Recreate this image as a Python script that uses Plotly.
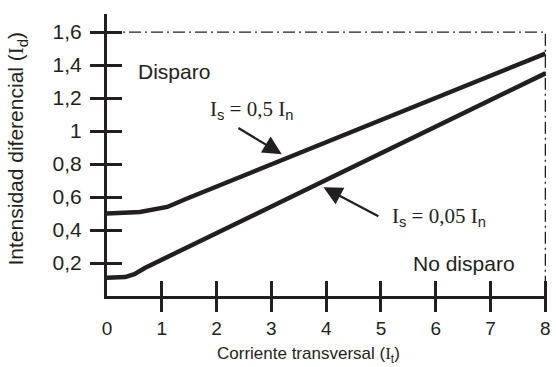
import plotly.graph_objects as go

# Is = 0,5 In curve
upper_x = [0, 0.6, 1.1, 1.3, 1.45, 8]
upper_y = [0.50, 0.51, 0.54, 0.565, 0.59, 1.47]
# Is = 0,05 In curve
lower_x = [0, 0.33, 0.5, 0.69, 8]
lower_y = [0.11, 0.115, 0.133, 0.17, 1.35]
# dash-dot limits
limit_x = [0, 8, 8]
limit_y = [1.6, 1.6, 0]

x_ticks = [0, 1, 2, 3, 4, 5, 6, 7, 8]
x_marks = [1, 2, 3, 4, 5, 6, 7, 8]
y_ticks = [0.2, 0.4, 0.6, 0.8, 1.0, 1.2, 1.4, 1.6]
y_labels = ["0,2", "0,4", "0,6", "0,8", "1", "1,2", "1,4", "1,6"]

ink = "#231f20"
serif = "Liberation Serif, Times New Roman, serif"
sans = "Liberation Sans, Arial, sans-serif"
xr = [0, 8.03]
yr = [0, 1.71]

fig = go.Figure()
fig.add_trace(go.Scatter(x=limit_x, y=limit_y, mode="lines",
                         line=dict(color=ink, width=1.3, dash="12px,4px,2px,4px")))
fig.add_trace(go.Scatter(x=upper_x, y=upper_y, mode="lines", line=dict(color=ink, width=4.5)))
fig.add_trace(go.Scatter(x=lower_x, y=lower_y, mode="lines", line=dict(color=ink, width=4.5)))
# empty traces so the tick-only axes get drawn
fig.add_trace(go.Scatter(x=[], y=[], xaxis="x2", yaxis="y"))
fig.add_trace(go.Scatter(x=[], y=[], xaxis="x3", yaxis="y2"))

fig.update_layout(
    width=556, height=367, showlegend=False,
    paper_bgcolor="white", plot_bgcolor="white",
    margin=dict(l=107, r=5, t=14, b=71),
    font=dict(family=sans, color=ink, size=20),
    xaxis=dict(range=xr, showgrid=False, zeroline=False, showline=True,
               linecolor=ink, linewidth=3, tickvals=x_ticks, ticks="",
               ticklabelstandoff=13, tickfont=dict(size=19, color=ink)),
    xaxis2=dict(range=xr, showgrid=False, zeroline=False, overlaying="x",
                anchor="y", side="bottom", tickvals=x_marks, ticks="outside",
                ticklen=15, tickwidth=3, tickcolor=ink, showticklabels=False),
    xaxis3=dict(range=xr, showgrid=False, zeroline=False, overlaying="x",
                anchor="y2", side="bottom", tickvals=x_marks, ticks="inside",
                ticklen=15, tickwidth=3, tickcolor=ink, showticklabels=False),
    yaxis=dict(range=yr, showgrid=False, zeroline=False,
               showline=True, linecolor=ink, linewidth=3,
               tickvals=y_ticks, ticktext=y_labels, ticks="outside",
               ticklen=14, tickwidth=3, tickcolor=ink, ticklabelstandoff=4,
               tickfont=dict(size=21, color=ink)),
    yaxis2=dict(range=yr, overlaying="y", anchor="x", side="left",
                showgrid=False, zeroline=False, tickvals=y_ticks,
                ticks="inside", ticklen=15, tickwidth=3, tickcolor=ink,
                showticklabels=False),
)

sub_s = "<sub><span style=\"font-family:Liberation Sans\">s</span></sub>"
sub_n = "<sub><span style=\"font-family:Liberation Sans\">n</span></sub>"
notes = [
    dict(x=0.53, y=1.36, text="Disparo", xanchor="left", font=dict(size=21)),
    dict(x=5.54, y=0.2, text="No disparo", xanchor="left", font=dict(size=21)),
    dict(x=2.64, y=1.13, text="I" + sub_s + " = 0,5 I" + sub_n,
         xanchor="center", font=dict(family=serif, size=21)),
    dict(x=6.05, y=0.48, text="I" + sub_s + " = 0,05 I" + sub_n,
         xanchor="center", font=dict(family=serif, size=21)),
]
for n in notes:
    fig.add_annotation(xref="x", yref="y", showarrow=False, yanchor="middle", **n)

arrows = [((2.37, 1.024), (3.19, 0.86)), ((4.98, 0.479), (3.95, 0.66))]
for (tx, ty), (hx, hy) in arrows:
    fig.add_annotation(x=hx, y=hy, ax=tx, ay=ty, xref="x", yref="y", axref="x", ayref="y",
                       text="", showarrow=True, arrowhead=2, arrowsize=1.7,
                       arrowwidth=2.2, arrowcolor=ink)

fig.add_annotation(xref="paper", yref="paper", x=-0.2036, y=0.521, showarrow=False,
                   xanchor="center", yanchor="middle", textangle=-90, font=dict(size=21),
                   text="Intensidad diferencial (<span style=\"font-family:Liberation Serif\">I</span><sub>d</sub>)")
fig.add_annotation(xref="paper", yref="paper", x=0.457, y=-0.208, showarrow=False,
                   xanchor="center", yanchor="middle", font=dict(size=17),
                   text="Corriente transversal (<span style=\"font-family:Liberation Serif\">I</span><sub>t</sub>)")

fig.write_html("out.html", config={"displayModeBar": False},
               post_script="document.body.style.margin='0';")
